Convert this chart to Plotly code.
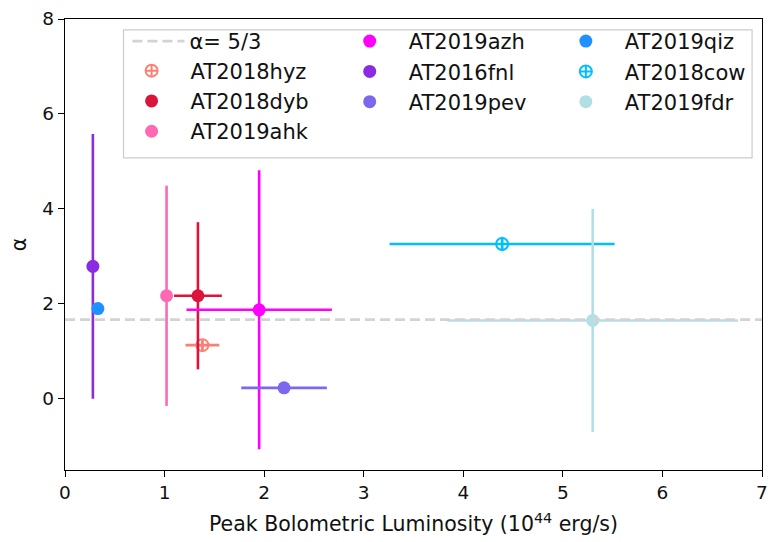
import plotly.graph_objects as go

names = ["AT2018hyz", "AT2018dyb", "AT2019ahk", "AT2019azh", "AT2016fnl",
         "AT2019pev", "AT2019qiz", "AT2018cow", "AT2019fdr"]
lum = [1.38, 1.335, 1.02, 1.95, 0.28, 2.20, 0.33, 4.39, 5.30]
lum_err = [0.17, 0.24, 0.0, 0.73, 0.0, 0.43, 0.0, 1.13, 1.46]
alpha = [1.13, 2.17, 2.17, 1.875, 2.79, 0.23, 1.90, 3.26, 1.65]
alpha_err = [0.1, 1.55, 2.32, 2.94, 2.79, 0.0, 0.12, 0.15, 2.35]
colors = ["#FA8072", "#DC143C", "#FF69B4", "#FF00FF", "#8A2BE2",
          "#7B68EE", "#1E90FF", "#00BFFF", "#B0E0E6"]
open_marker = [True, False, False, False, False, False, False, True, False]
legend_col = ["legend", "legend", "legend", "legend2", "legend2",
              "legend2", "legend3", "legend3", "legend3"]
ref_alpha = 5 / 3
ref_label = "α= 5/3"
x_range = [0, 7]
y_range = [-1.5, 8]

FONT = "DejaVu Sans"
TXT = "#111111"
fig = go.Figure()

for i, n in enumerate(names):
    c = colors[i]
    fig.add_trace(go.Scatter(
        x=[lum[i]], y=[alpha[i]], mode="markers", name=n,
        legend=legend_col[i], legendrank=10 + i,
        marker=dict(
            symbol="circle-cross-open" if open_marker[i] else "circle",
            size=13 if not open_marker[i] else 12,
            color=c,
            line=dict(color=c, width=2 if open_marker[i] else 0),
        ),
        error_x=dict(type="data", array=[lum_err[i]], visible=lum_err[i] > 0,
                     color=c, thickness=2.6, width=0),
        error_y=dict(type="data", array=[alpha_err[i]], visible=alpha_err[i] > 0,
                     color=c, thickness=2.6, width=0),
    ))

fig.add_trace(go.Scatter(
    x=x_range, y=[ref_alpha, ref_alpha], mode="lines", name=ref_label,
    legend="legend4",
    line=dict(color="#D3D3D3", width=2.6, dash="10px,5px"),
))

def pxx(p):
    return (p - 65) / 703.0

def pxy(p):
    return (470 - p) / 458.0

legend_common = dict(bgcolor="rgba(0,0,0,0)", borderwidth=0, xanchor="left",
                     yanchor="top", font=dict(family=FONT, size=21, color=TXT),
                     traceorder="normal", tracegroupgap=0)
LEG_TOP = 14
ROW = 30
fig.update_layout(
    legend4=dict(x=pxx(128), y=pxy(LEG_TOP), itemwidth=52, **legend_common),
    legend=dict(x=pxx(113), y=pxy(LEG_TOP + ROW), itemwidth=68, **legend_common),
    legend2=dict(x=pxx(333), y=pxy(LEG_TOP), itemwidth=68, **legend_common),
    legend3=dict(x=pxx(551), y=pxy(LEG_TOP), itemwidth=68, **legend_common),
)

fig.add_shape(type="rect", xref="paper", yref="paper",
              x0=pxx(124), x1=pxx(758), y0=pxy(153), y1=pxy(23),
              line=dict(color="#CCCCCC", width=1.2),
              fillcolor="rgba(255,255,255,0.8)", layer="above")

axis_common = dict(showgrid=False, zeroline=False, showline=True, linecolor="black",
                   linewidth=1.3, mirror=True, ticks="outside", ticklen=6,
                   tickwidth=1.3, tickcolor="black",
                   tickfont=dict(family=FONT, size=18.5, color=TXT))
fig.update_xaxes(range=x_range, dtick=1, tick0=0,
                 title=dict(text="Peak Bolometric Luminosity (10<sup>44</sup> erg/s)",
                            font=dict(family=FONT, size=20.5, color=TXT), standoff=14),
                 **axis_common)
fig.update_yaxes(range=y_range, tickvals=[0, 2, 4, 6, 8],
                 title=dict(text="α", font=dict(family=FONT, size=20.5, color=TXT),
                            standoff=10),
                 **axis_common)

fig.update_layout(
    width=776, height=542,
    margin=dict(l=65, r=8, t=12, b=72),
    plot_bgcolor="white", paper_bgcolor="white",
    showlegend=True,
)

fig.write_html("out.html")
